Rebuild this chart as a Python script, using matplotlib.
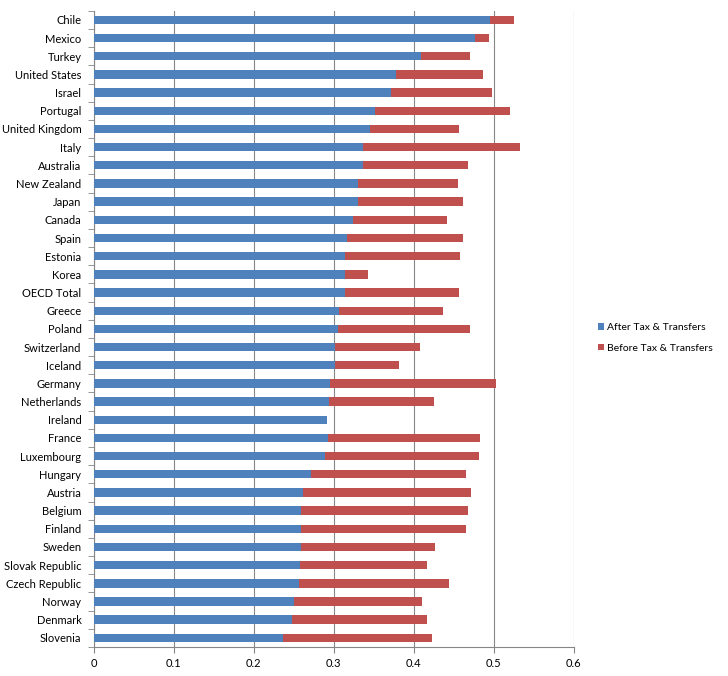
import numpy as np
import matplotlib
matplotlib.use("Agg")
import matplotlib.pyplot as plt

countries = ["Chile", "Mexico", "Turkey", "United States", "Israel", "Portugal",
             "United Kingdom", "Italy", "Australia", "New Zealand", "Japan", "Canada",
             "Spain", "Estonia", "Korea", "OECD Total", "Greece", "Poland",
             "Switzerland", "Iceland", "Germany", "Netherlands", "Ireland", "France",
             "Luxembourg", "Hungary", "Austria", "Belgium", "Finland", "Sweden",
             "Slovak Republic", "Czech Republic", "Norway", "Denmark", "Slovenia"]

after_tax = [0.495, 0.477, 0.409, 0.378, 0.371, 0.352, 0.345, 0.337, 0.336, 0.330,
             0.330, 0.324, 0.316, 0.314, 0.314, 0.314, 0.307, 0.305, 0.302, 0.301,
             0.295, 0.294, 0.292, 0.293, 0.289, 0.272, 0.261, 0.259, 0.259, 0.259,
             0.258, 0.256, 0.250, 0.248, 0.236]

before_tax = [0.526, 0.494, 0.470, 0.486, 0.498, 0.521, 0.456, 0.533, 0.468, 0.455,
              0.462, 0.441, 0.461, 0.458, 0.343, 0.456, 0.436, 0.470, 0.408, 0.381,
              0.503, 0.425, np.nan, 0.483, 0.481, 0.465, 0.471, 0.468, 0.465, 0.426,
              0.416, 0.444, 0.410, 0.416, 0.423]

x_ticks = [0, 0.1, 0.2, 0.3, 0.4, 0.5, 0.6]
x_tick_labels = ["0", "0.1", "0.2", "0.3", "0.4", "0.5", "0.6"]

plt.rcParams['font.family'] = ['Lato', 'DejaVu Sans']

fig = plt.figure(figsize=(7.28, 6.76), dpi=100)
ax = fig.add_axes([0.129, 0.043, 0.659, 0.941])

n = len(countries)
y = np.arange(n)
h = 0.46
blue = "#4F81BD"
red = "#C0504D"

ax.barh(y, before_tax, height=h, color=red, label="Before Tax & Transfers", zorder=2)
ax.barh(y, after_tax, height=h, color=blue, label="After Tax & Transfers", zorder=3)

ax.set_ylim(n - 0.5, -0.5)
ax.set_xlim(0, 0.6)
ax.set_yticks(y)
ax.set_yticklabels(countries, fontsize=8)
ax.set_yticks(np.arange(n + 1) - 0.5, minor=True)
ax.tick_params(axis='y', which='major', length=0, pad=9)
ax.tick_params(axis='y', which='minor', length=4, color="#868686", direction='out')
ax.set_xticks(x_ticks)
ax.set_xticklabels(x_tick_labels, fontsize=8)
ax.tick_params(axis='x', length=4, color="#868686", direction='out', pad=4)

ax.grid(axis='x', color="#868686", linewidth=0.8, zorder=0)
ax.set_axisbelow(True)
for s in ["top", "right"]:
    ax.spines[s].set_visible(False)
for s in ["left", "bottom"]:
    ax.spines[s].set_color("#868686")
    ax.spines[s].set_linewidth(0.8)

handles, labels = ax.get_legend_handles_labels()
leg = fig.legend(handles[::-1], labels[::-1], loc='center left',
                 bbox_to_anchor=(0.808, 0.5), frameon=False, fontsize=7.5,
                 handlelength=0.6, handleheight=0.6, handletextpad=0.3,
                 labelspacing=1.1)

fig.savefig("out.png", dpi=100)
